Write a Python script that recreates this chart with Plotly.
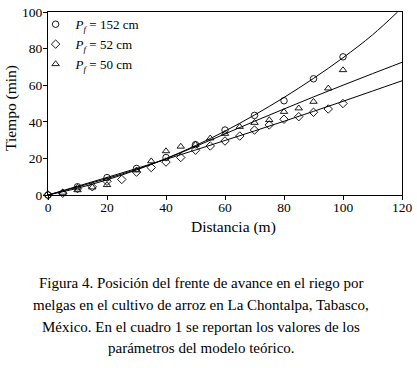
import plotly.graph_objects as go

# Observed points
d152 = [0, 10, 20, 30, 40, 50, 60, 70, 80, 90, 100]
t152 = [0, 4.5, 9.5, 14.5, 20.5, 27.5, 35.5, 43.5, 51.5, 63.5, 75.5]

d52 = [0, 5, 10, 15, 20, 25, 30, 35, 40, 45, 50, 55, 60, 65, 70, 75, 80, 85, 90, 95, 100]
t52 = [0, 1, 3.5, 4.5, 7.5, 8.5, 12.5, 15, 18, 20.5, 24.5, 26.8, 29.5, 32.2, 35.5, 38.3, 41.4, 42.8, 45.2, 47, 50]

d50 = [5, 10, 15, 20, 30, 35, 40, 45, 50, 55, 60, 65, 70, 75, 80, 85, 90, 95, 100]
t50 = [1.3, 2.7, 4.2, 5.5, 13.5, 18.5, 24, 26.5, 27.5, 31, 33.5, 37.3, 39.5, 41, 45.5, 47.4, 51, 58.3, 68.3]

# Model curves
dc152 = [0, 10, 20, 30, 40, 50, 60, 70, 80, 90, 100, 110, 118.5]
tc152 = [0, 3.7, 8.3, 13.7, 19.9, 27, 34.9, 43.7, 53.3, 63.7, 75, 87.5, 100]
dc50 = [0, 10, 20, 30, 40, 50, 60, 70, 80, 90, 100, 110, 120]
tc50 = [0, 4.4, 9, 14, 19.8, 26.5, 33.4, 40.3, 47, 53.6, 60, 66.3, 72.5]
dc52 = [0, 10, 20, 30, 40, 50, 60, 70, 80, 90, 100, 110, 120]
tc52 = [0, 4.8, 9.6, 14.5, 19.5, 24.6, 29.8, 35, 40.3, 45.7, 51.2, 56.8, 62.4]

x_ticks = [0, 20, 40, 60, 80, 100, 120]
y_ticks = [0, 20, 40, 60, 80, 100]

caption = [
    "Figura 4. Posición del frente de avance en el riego por",
    "melgas en el cultivo de arroz en La Chontalpa, Tabasco,",
    "México. En el cuadro 1 se reportan los valores de los",
    "parámetros del modelo teórico.",
]

FONT = "Liberation Serif"

fig = go.Figure()
for dc, tc in [(dc152, tc152), (dc50, tc50), (dc52, tc52)]:
    fig.add_trace(go.Scatter(x=dc, y=tc, mode="lines", line=dict(color="black", width=1, shape="spline"),
                             showlegend=False, hoverinfo="skip"))
for dd, tt, sym, nm in [(d152, t152, "circle-open", "<i>P</i><sub><i>f</i></sub> = 152 cm"),
                        (d52, t52, "diamond-open", "<i>P</i><sub><i>f</i></sub> = 52 cm"),
                        (d50, t50, "triangle-up-open", "<i>P</i><sub><i>f</i></sub> = 50 cm")]:
    fig.add_trace(go.Scatter(x=dd, y=tt, mode="markers", name=nm, cliponaxis=False,
                             marker=dict(symbol=sym, size=6.5, color="black",
                                         line=dict(color="black", width=0.9))))

H = 183.0
def py(Y):
    return (195 - Y) / H
def px(X):
    return (X - 48) / 354.0

for line, Y in zip(caption, [283, 305, 327, 348]):
    fig.add_annotation(text=line, xref="paper", yref="paper", x=px(201), y=py(Y),
                       xanchor="center", yanchor="middle", showarrow=False,
                       font=dict(family=FONT, size=15, color="black"))

fig.add_annotation(text="Distancia (m)", xref="paper", yref="paper", x=px(233), y=py(227),
                   xanchor="center", yanchor="middle", showarrow=False,
                   font=dict(family=FONT, size=15.5, color="black"))
fig.add_annotation(text="Tiempo (min)", xref="paper", yref="paper", x=px(11), y=py(108),
                   xanchor="center", yanchor="middle", showarrow=False, textangle=-90,
                   font=dict(family=FONT, size=15.5, color="black"))

fig.update_layout(
    width=417, height=368,
    margin=dict(l=48, r=15, t=12, b=173, autoexpand=False),
    paper_bgcolor="white", plot_bgcolor="white",
    font=dict(family=FONT, size=13, color="black"),
    showlegend=True,
    legend=dict(x=-0.035, y=1.015, xanchor="left", yanchor="top", bgcolor="rgba(0,0,0,0)",
                font=dict(family=FONT, size=13, color="black"), tracegroupgap=0, itemwidth=30),
    xaxis=dict(range=[0, 120], tickvals=x_ticks, ticks="outside", ticklen=4, tickcolor="black",
               showline=True, linecolor="black", linewidth=1, mirror=True, showgrid=False, zeroline=False,
               automargin=False, tickfont=dict(family=FONT, size=13.5), ticklabelstandoff=-4),
    yaxis=dict(range=[0, 100], tickvals=y_ticks, ticks="outside", ticklen=4, tickcolor="black",
               showline=True, linecolor="black", linewidth=1, mirror=True, showgrid=False, zeroline=False,
               automargin=False, tickfont=dict(family=FONT, size=13.5), ticklabelstandoff=-2),
)
fig.write_html("out.html", config={"displayModeBar": False},
               post_script="document.body.style.margin='0';document.body.style.overflow='hidden';")
